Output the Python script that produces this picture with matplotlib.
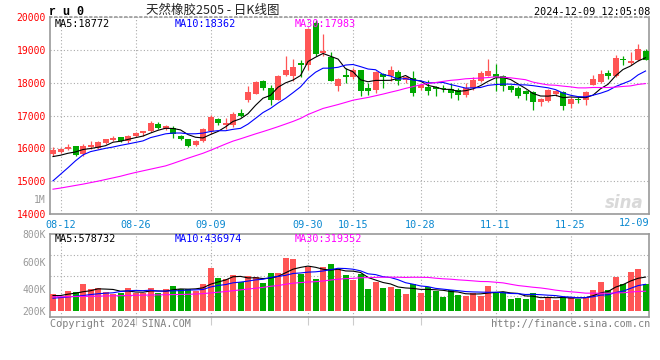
import numpy as np
import pandas as pd
import matplotlib
matplotlib.use("Agg")
import matplotlib.pyplot as plt

plt.rcParams['font.family'] = ['DejaVu Sans Mono']

# date labels and the bar index they sit on (bar 0 is 08-09)
date_labels = ['08-12', '08-26', '09-09', '09-30', '10-15', '10-28', '11-11', '11-25', '12-09']
date_index = [1, 11, 21, 34, 40, 49, 59, 69, 79]

open_prices = [15820, 15890, 15970, 16060, 15840, 16030, 16010, 16150, 16250, 16340,
               16230, 16390, 16455, 16515, 16740, 16575, 16625, 16375, 16275, 16100,
               16220, 16535, 16880, 16700, 16725, 17080, 17485, 17667, 18050, 17840,
               17485, 18240, 18190, 18600, 18525, 19810, 18900, 18780, 17910, 18220,
               18160, 18380, 17830, 17790, 18273, 18192, 18323, 18071, 18142, 17838,
               17859, 17869, 17849, 17818, 17788, 17636, 17838, 18040, 18212, 18273,
               18192, 17909, 17838, 17737, 17707, 17414, 17455, 17647, 17707, 17354,
               17515, 17465, 17939, 18030, 18293, 18192, 18717, 18606, 18697, 18970]
high_prices = [16040, 16020, 16120, 16070, 16120, 16210, 16210, 16290, 16370, 16360,
               16420, 16500, 16535, 16830, 16800, 16720, 16680, 16395, 16290, 16250,
               16630, 17030, 16930, 16910, 17100, 17200, 17890, 18060, 18090, 17940,
               18240, 18820, 18720, 18700, 19660, 19900, 19485, 18940, 18140, 18445,
               18450, 18400, 18000, 18345, 18290, 18495, 18400, 18200, 18345, 17960,
               18090, 17910, 17930, 17990, 17838, 17990, 18172, 18344, 18717, 18576,
               18243, 17940, 17889, 17788, 17737, 17535, 17808, 17768, 17737, 17566,
               17566, 17737, 18242, 18394, 18374, 18848, 18798, 18929, 19182, 19020]
low_prices = [15770, 15870, 15950, 15770, 15770, 15990, 15990, 16140, 16210, 16200,
              16150, 16330, 16370, 16495, 16580, 16555, 16320, 16250, 16050, 16070,
              16190, 16430, 16720, 16575, 16660, 16960, 17405, 17640, 17790, 17320,
              17465, 18190, 18060, 18170, 18395, 18800, 18800, 18040, 17740, 17990,
              18100, 17600, 17620, 17690, 17840, 18040, 17940, 18000, 17590, 17790,
              17636, 17606, 17727, 17535, 17485, 17566, 17788, 18010, 18192, 17737,
              17737, 17707, 17535, 17485, 17162, 17303, 17404, 17606, 17182, 17232,
              17384, 17313, 17919, 17990, 18111, 18172, 18545, 18545, 18646, 18677]
close_prices = [15940, 15990, 16040, 15790, 16060, 16090, 16190, 16270, 16320, 16210,
                16370, 16455, 16515, 16780, 16625, 16680, 16425, 16295, 16070, 16220,
                16575, 16950, 16760, 16760, 17050, 16980, 17727, 18030, 17850, 17485,
                18210, 18390, 18465, 18535, 19625, 18860, 18960, 18040, 18110, 18170,
                18380, 17740, 17740, 18313, 18172, 18394, 18040, 18172, 17687, 17939,
                17738, 17808, 17808, 17687, 17636, 17838, 18091, 18293, 18344, 18172,
                17889, 17788, 17606, 17667, 17404, 17505, 17768, 17737, 17303, 17505,
                17465, 17707, 18121, 18273, 18192, 18747, 18677, 18646, 19030, 18697]
# volume in thousands of lots
volumes = [366, 341, 388, 379, 439, 402, 410, 379, 366, 376,
           410, 373, 372, 410, 376, 402, 424, 402, 402, 387,
           439, 554, 482, 475, 504, 453, 498, 489, 446, 518,
           518, 627, 619, 511, 565, 475, 558, 583, 547, 502,
           467, 511, 402, 455, 412, 415, 402, 366, 439, 376,
           415, 388, 347, 395, 359, 352, 376, 354, 424, 381,
           379, 332, 337, 332, 373, 325, 340, 325, 347, 347,
           332, 347, 395, 451, 395, 491, 439, 525, 549, 439]

# moving averages on the first bars depend on older data
ma5_head = [15750, 15790, 15850, 15890]
ma10_head = [15010, 15210, 15410, 15620, 15800, 15900, 15950, 16000, 16040]
ma30_head = [14756, 14790, 14830, 14870, 14910, 14955, 15000, 15050, 15100, 15150,
             15210, 15265, 15315, 15365, 15415, 15465, 15540, 15620, 15700, 15775,
             15850, 15940, 16035, 16130, 16220, 16290, 16365, 16440, 16510]
vol_ma5_head = [355, 355, 365, 372]
vol_ma10_head = [336, 340, 345, 350, 355, 362, 368, 372, 375]
vol_ma30_head = [345, 346, 347, 348, 349, 350, 351, 352, 353, 354,
                 356, 357, 358, 359, 360, 361, 362, 363, 364, 366,
                 369, 374, 379, 384, 390, 396, 402, 408, 414]

UP = '#ff5555'
DOWN = '#00a800'
GRID = '#aaaaaa'
FRAME = '#999999'
W, H = 660, 360


def moving_average(values, n, head):
    ma = pd.Series(values, dtype=float).rolling(n).mean().to_numpy()
    ma[:n - 1] = head
    return ma


def fig_xy(x, y):
    return x / W, 1 - y / H


def style_frame(ax, top_style):
    for side in ['left', 'right', 'bottom', 'top']:
        ax.spines[side].set_color(FRAME)
        ax.spines[side].set_linewidth(1.2)
    ax.spines['top'].set_linestyle(top_style)


def draw_candles(ax, x, o, h, l, c):
    o, h, l, c = map(np.asarray, (o, h, l, c))
    colors = np.where(c >= o, UP, DOWN)
    ax.vlines(x, l, h, colors=colors, linewidth=0.9, zorder=3)
    body = np.maximum(np.abs(c - o), 30)
    ax.bar(x, body, bottom=np.minimum(o, c), width=0.8, color=colors, linewidth=0, zorder=4)
    return colors


x = np.arange(len(close_prices))
fig = plt.figure(figsize=(W / 100, H / 100), dpi=100)
ax = fig.add_axes([50 / W, 1 - 214 / H, 599.3 / W, 197 / H])
ax_vol = fig.add_axes([50 / W, 1 - 317 / H, 599.3 / W, 83 / H])

# price panel
colors = draw_candles(ax, x, open_prices, high_prices, low_prices, close_prices)
ax.plot(x, moving_average(close_prices, 5, ma5_head), color='black', lw=0.8, zorder=5)
ax.plot(x, moving_average(close_prices, 10, ma10_head), color='#0000ff', lw=0.8, zorder=5)
ax.plot(x, moving_average(close_prices, 30, ma30_head), color='#ff00ff', lw=0.8, zorder=5)
ax.set_xlim(-0.4, 79.5)
ax.set_ylim(14000, 20000)
ax.set_yticks(range(14000, 20001, 1000))
ax.set_yticklabels([str(v) for v in range(14000, 20001, 1000)])
ax.set_xticks(date_index[:-1])
ax.set_xticklabels(date_labels[:-1])
ax.tick_params(axis='y', length=0, colors='#ff0000', labelsize=7, pad=3)
ax.tick_params(axis='x', length=0, colors='#0a88d0', labelsize=7.3, pad=4)
ax.text(79.5, 13880, date_labels[-1], ha='right', va='top', color='#0a88d0', fontsize=7.3)
ax.grid(True, color=GRID, linestyle=(0, (1, 2)), linewidth=0.8)
ax.set_axisbelow(True)
style_frame(ax, (0, (1, 2)))
ax.text(78.8, 14330, 'sina', ha='right', va='center', color='#d9d9d9',
        fontsize=12, fontstyle='italic', fontweight='bold', family='DejaVu Sans', zorder=1)

# volume panel
VOL_BASE = 245
ax_vol.bar(x, np.asarray(volumes) - VOL_BASE, bottom=VOL_BASE, width=0.8, color=colors, linewidth=0, zorder=3)
ax_vol.plot(x, moving_average(volumes, 5, vol_ma5_head), color='black', lw=0.8, zorder=5)
ax_vol.plot(x, moving_average(volumes, 10, vol_ma10_head), color='#0000ff', lw=0.8, zorder=5)
ax_vol.plot(x, moving_average(volumes, 30, vol_ma30_head), color='#ff00ff', lw=0.8, zorder=5)
ax_vol.set_xlim(-0.4, 79.5)
ax_vol.set_ylim(200, 800)
ax_vol.set_yticks([800, 600, 400, 200])
ax_vol.set_yticklabels(['800K', '600K', '400K', '200K'])
ax_vol.get_yticklabels()[-1].set_va('bottom')
ax_vol.set_yticks([350, 500, 650], minor=True)
ax_vol.set_xticks(date_index[:-1])
ax_vol.tick_params(axis='y', which='both', length=0, colors='#999999', labelsize=7, pad=3)
ax_vol.tick_params(axis='x', length=6, color='#cccccc', labelbottom=False)
ax_vol.grid(True, axis='x', color=GRID, linestyle=(0, (1, 2)), linewidth=0.8)
ax_vol.grid(True, axis='y', which='minor', color=GRID, linestyle=(0, (1, 2)), linewidth=0.8)
ax_vol.set_axisbelow(True)
style_frame(ax_vol, 'solid')

# header and legend texts
fig.text(*fig_xy(49, 12), 'r u 0', va='center', fontsize=8.5, fontweight='bold', family='Liberation Mono')
fig.text(*fig_xy(213, 10), '天然橡胶2505 - 日K线图', ha='center', va='center', fontsize=9,
         family=['Noto Sans CJK SC', 'DejaVu Sans'], color='#222222')
fig.text(*fig_xy(650, 12), '2024-12-09 12:05:08', ha='right', va='center', fontsize=7.3)
fig.text(*fig_xy(55, 24), 'MA5:18772', va='center', fontsize=7.3, color='black')
fig.text(*fig_xy(175, 24), 'MA10:18362', va='center', fontsize=7.3, color='#0000ff')
fig.text(*fig_xy(295, 24), 'MA30:17983', va='center', fontsize=7.3, color='#ff00ff')
fig.text(*fig_xy(55, 239), 'MA5:578732', va='center', fontsize=7.3, color='black')
fig.text(*fig_xy(175, 239), 'MA10:436974', va='center', fontsize=7.3, color='#0000ff')
fig.text(*fig_xy(295, 239), 'MA30:319352', va='center', fontsize=7.3, color='#ff00ff')
fig.text(*fig_xy(46, 200), '1M', ha='right', va='center', fontsize=7, color='#999999')
fig.text(*fig_xy(50, 324), 'Copyright 2024 SINA.COM', va='center', fontsize=7.3, color='#808080')
fig.text(*fig_xy(650, 324), 'http://finance.sina.com.cn', ha='right', va='center', fontsize=7.3, color='#808080')

fig.savefig('out.png', dpi=100)
